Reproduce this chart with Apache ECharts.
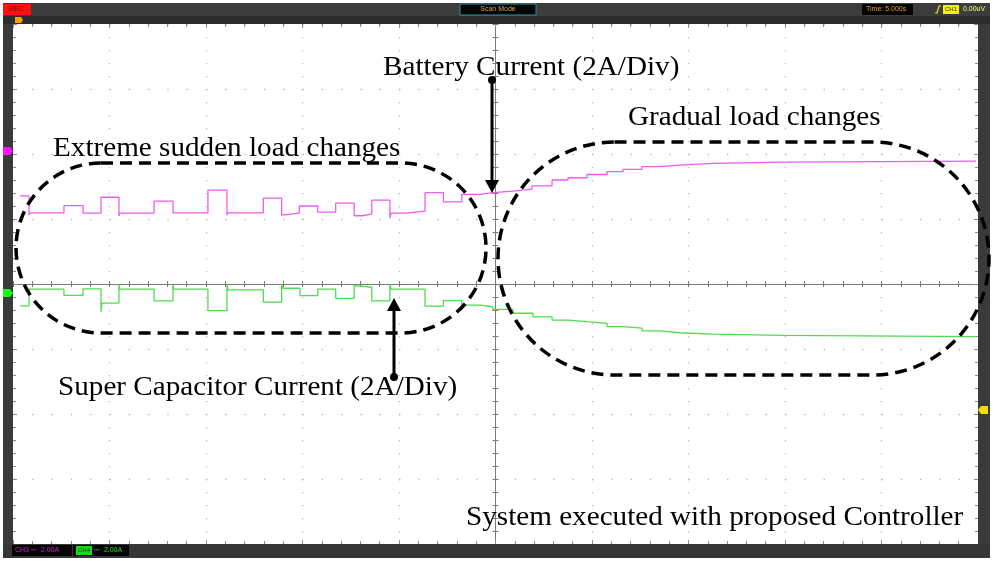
<!DOCTYPE html>
<html><head><meta charset="utf-8">
<script src="https://cdn.jsdelivr.net/npm/echarts@6/dist/echarts.min.js"></script>
<style>html,body{margin:0;padding:0;background:#fff}#c{width:994px;height:561px}</style>
</head><body><div id="c"></div>
<script>
// Time axis: 5.000 s/div, 10 divisions, trigger at centre
const timeMin = -25, timeMax = 25, timeStep = 5;
// Current axis: 2 A/div, 8 divisions
const ampMin = -8, ampMax = 8, ampStep = 2;

// Battery current (CH3, magenta) [time s, displayed A] - step changes
const batteryCurrent = [
  [-24.64, 2.71], [-24.17, 2.12], [-24.12, 2.19], [-22.36, 2.41], [-21.37, 2.18],
  [-20.44, 2.67], [-19.51, 2.09], [-19.46, 2.18], [-17.69, 2.55], [-16.71, 2.19],
  [-14.90, 2.89], [-13.91, 2.12], [-13.86, 2.19], [-12.03, 2.64], [-11.08, 2.12],
  [-11.01, 2.18], [-10.17, 2.40], [-9.21, 2.21], [-8.28, 2.49], [-7.32, 2.10],
  [-6.90, 2.16], [-6.41, 2.58], [-5.47, 2.03], [-5.41, 2.18], [-4.60, 2.24],
  [-3.65, 2.81], [-2.70, 2.53], [-1.75, 2.76], [-0.80, 2.81], [-0.13, 2.86],
  [0.91, 2.92], [1.89, 3.02], [2.93, 3.20], [3.76, 3.27], [4.74, 3.37],
  [5.78, 3.46], [6.61, 3.53], [7.59, 3.61], [8.52, 3.66], [9.56, 3.71],
  [11.27, 3.75], [14.90, 3.78], [24.90, 3.78]
];

// Super capacitor current (CH4, green) [time s, displayed A]
const superCapCurrent = [
  [-24.64, -0.67], [-24.17, -0.16], [-22.36, -0.35], [-21.37, -0.15], [-20.44, -0.85],
  [-20.39, -0.59], [-19.51, -0.03], [-19.46, -0.16], [-17.69, -0.52], [-16.71, -0.03],
  [-16.66, -0.16], [-14.90, -0.82], [-13.91, -0.03], [-13.86, -0.18], [-12.03, -0.56],
  [-11.08, 0.00], [-11.01, -0.13], [-10.13, -0.36], [-9.21, -0.16], [-8.28, -0.44],
  [-7.32, -0.05], [-7.28, -0.10], [-6.41, -0.52], [-5.47, 0.00], [-5.41, -0.16],
  [-3.65, -0.68], [-2.70, -0.51], [-1.75, -0.65], [-0.80, -0.70], [-0.13, -0.78],
  [0.91, -0.90], [1.94, -1.01], [2.93, -1.11], [3.76, -1.16], [4.74, -1.21],
  [5.78, -1.31], [6.61, -1.36], [7.59, -1.44], [8.52, -1.50], [9.56, -1.54],
  [11.27, -1.58], [14.90, -1.62], [24.90, -1.62]
];

const annotationTexts = {
  battery: 'Battery Current (2A/Div)',
  sudden: 'Extreme sudden load changes',
  gradual: 'Gradual load changes',
  supercap: 'Super Capacitor Current (2A/Div)',
  system: 'System executed with proposed Controller'
};

const chart = echarts.init(document.getElementById('c'), null, {renderer: 'canvas'});

const tickGray = '#8c8c8c';
const dotGray = '#b8b8b8';
function edgeX(pos, showSplit) {
  return {
    type: 'value', min: timeMin, max: timeMax, interval: timeStep, position: pos,
    axisLine: {show: false, onZero: false},
    axisTick: {show: true, inside: true, length: 4, lineStyle: {color: tickGray}},
    minorTick: {show: true, splitNumber: 5, length: 3, lineStyle: {color: tickGray}},
    axisLabel: {show: false},
    splitLine: {show: showSplit, lineStyle: {color: dotGray, width: 1.3, type: [1.3, 11.7]}}
  };
}
function centerX(inside) {
  return {
    type: 'value', min: timeMin, max: timeMax, interval: timeStep, position: 'bottom',
    axisLine: {show: true, onZero: true, onZeroAxisIndex: 0, lineStyle: {color: '#7a7a7a', width: 1}},
    axisTick: {show: true, inside: inside, length: 3, lineStyle: {color: '#7a7a7a'}},
    minorTick: {show: true, splitNumber: 5, length: 3, lineStyle: {color: '#7a7a7a'}},
    axisLabel: {show: false}, splitLine: {show: false}
  };
}
function edgeY(pos, showSplit) {
  return {
    type: 'value', min: ampMin, max: ampMax, interval: ampStep, position: pos,
    axisLine: {show: false, onZero: false},
    axisTick: {show: true, inside: true, length: 4, lineStyle: {color: tickGray}},
    minorTick: {show: true, splitNumber: 5, length: 3, lineStyle: {color: tickGray}},
    axisLabel: {show: false},
    splitLine: {show: showSplit, lineStyle: {color: dotGray, width: 1.3, type: [1.3, 18.0]}}
  };
}
function centerY(inside) {
  return {
    type: 'value', min: ampMin, max: ampMax, interval: ampStep, position: 'left',
    axisLine: {show: true, onZero: true, onZeroAxisIndex: 0, lineStyle: {color: '#7a7a7a', width: 1}},
    axisTick: {show: true, inside: inside, length: 3, lineStyle: {color: '#7a7a7a'}},
    minorTick: {show: true, splitNumber: 5, length: 3, lineStyle: {color: '#7a7a7a'}},
    axisLabel: {show: false}, splitLine: {show: false}
  };
}

const serif = '"Liberation Serif", "Times New Roman", serif';
const small = '"Liberation Sans Narrow", "Liberation Sans", Arial, sans-serif';
function annText(txt, x, y) {
  return {type: 'text', x: x, y: y, scaleX: 1.08, z: 120,
    style: {text: txt, font: '27px ' + serif, fill: '#000', align: 'left', verticalAlign: 'middle'}};
}
const dash = {fill: 'none', stroke: '#000', lineWidth: 3.5, lineDash: [12, 7]};

const graphics = [
  // scope frame
  {type: 'rect', z: 5, shape: {x: 3, y: 3, width: 987, height: 14}, style: {fill: '#3c3c3c'}},
  {type: 'rect', z: 5, shape: {x: 3, y: 16, width: 987, height: 8}, style: {fill: '#2c2c2c'}},
  {type: 'rect', z: 5, shape: {x: 3, y: 24, width: 10, height: 520}, style: {fill: '#3a3a3a'}},
  {type: 'rect', z: 5, shape: {x: 978, y: 24, width: 12, height: 520}, style: {fill: '#3a3a3a'}},
  {type: 'rect', z: 5, shape: {x: 3, y: 544, width: 987, height: 14}, style: {fill: '#363636'}},
  // top bar items
  {type: 'rect', z: 6, shape: {x: 3, y: 4, width: 28, height: 11}, style: {fill: '#ff1010'}},
  {type: 'text', z: 7, x: 9, y: 9.5, style: {text: 'REC', font: '7px ' + small, fill: '#7a0000', verticalAlign: 'middle'}},
  {type: 'rect', z: 6, shape: {x: 460, y: 4, width: 76, height: 11}, style: {fill: '#050505', stroke: '#2f8f9f', lineWidth: 1}},
  {type: 'text', z: 7, x: 498, y: 9.5, style: {text: 'Scan Mode', font: '7px ' + small, fill: '#e0a040', align: 'center', verticalAlign: 'middle'}},
  {type: 'rect', z: 6, shape: {x: 862, y: 4, width: 51, height: 11}, style: {fill: '#050505'}},
  {type: 'text', z: 7, x: 866, y: 9.5, style: {text: 'Time: 5.000s', font: '7px ' + small, fill: '#e09a30', verticalAlign: 'middle'}},
  {type: 'polyline', z: 7, shape: {points: [[935, 13], [937, 13], [939, 6], [941, 6]]}, style: {stroke: '#ffe000', lineWidth: 1.2, fill: 'none'}},
  {type: 'rect', z: 6, shape: {x: 943, y: 5, width: 16, height: 9}, style: {fill: '#f5f500'}},
  {type: 'text', z: 7, x: 951, y: 9.5, style: {text: 'CH1', font: '6px ' + small, fill: '#222', align: 'center', verticalAlign: 'middle'}},
  {type: 'text', z: 7, x: 963, y: 9.5, style: {text: '0.00uV', font: '7px ' + small, fill: '#ffff90', verticalAlign: 'middle'}},
  {type: 'polygon', z: 7, shape: {points: [[15, 17], [21, 17], [23, 20], [21, 23], [15, 23]]}, style: {fill: '#ff9a00'}},
  // bottom status items
  {type: 'rect', z: 6, shape: {x: 12, y: 545, width: 60, height: 11}, style: {fill: '#050505'}},
  {type: 'text', z: 7, x: 15, y: 550.5, style: {text: 'CH3 \u2393  2.00A', font: '7px ' + small, fill: '#d020d0', verticalAlign: 'middle'}},
  {type: 'rect', z: 6, shape: {x: 73, y: 545, width: 56, height: 11}, style: {fill: '#050505'}},
  {type: 'rect', z: 6, shape: {x: 76, y: 546, width: 16, height: 9}, style: {fill: '#10e010'}},
  {type: 'text', z: 7, x: 84, y: 550.5, style: {text: 'CH4', font: '6px ' + small, fill: '#064006', align: 'center', verticalAlign: 'middle'}},
  {type: 'text', z: 7, x: 94, y: 550.5, style: {text: '\u2393  2.00A', font: '7px ' + small, fill: '#20e020', verticalAlign: 'middle'}},
  // channel level markers
  {type: 'polygon', z: 7, shape: {points: [[3, 147], [10, 147], [13, 151], [10, 155], [3, 155]]}, style: {fill: '#ff10ff'}},
  {type: 'polygon', z: 7, shape: {points: [[3, 289], [10, 289], [13, 293], [10, 297], [3, 297]]}, style: {fill: '#10ff10'}},
  {type: 'polygon', z: 7, shape: {points: [[978, 410], [981, 406], [988, 406], [988, 414], [981, 414]]}, style: {fill: '#f0e000'}},
  // annotations
  {type: 'rect', z: 110, shape: {x: 16, y: 163, width: 470, height: 170, r: 85}, style: dash},
  {type: 'rect', z: 110, shape: {x: 498, y: 142, width: 491, height: 233, r: 116.5}, style: dash},
  {type: 'line', z: 110, shape: {x1: 492, y1: 80, x2: 492, y2: 182}, style: {stroke: '#000', lineWidth: 3}},
  {type: 'polygon', z: 110, shape: {points: [[485, 180], [499, 180], [492, 193]]}, style: {fill: '#000'}},
  {type: 'circle', z: 110, shape: {cx: 492, cy: 80, r: 4}, style: {fill: '#000'}},
  {type: 'line', z: 110, shape: {x1: 394, y1: 308, x2: 394, y2: 377}, style: {stroke: '#000', lineWidth: 3}},
  {type: 'polygon', z: 110, shape: {points: [[387, 311], [401, 311], [394, 298]]}, style: {fill: '#000'}},
  {type: 'circle', z: 110, shape: {cx: 394, cy: 377, r: 4}, style: {fill: '#000'}},
  annText(annotationTexts.battery, 383, 68),
  annText(annotationTexts.sudden, 53, 149),
  annText(annotationTexts.gradual, 628, 118),
  annText(annotationTexts.supercap, 58, 388),
  annText(annotationTexts.system, 466, 518)
];

chart.setOption({
  animation: false,
  backgroundColor: '#ffffff',
  grid: {left: 13, top: 24, width: 965, height: 520, show: true, backgroundColor: '#ffffff', borderWidth: 0, containLabel: false},
  xAxis: [edgeX('bottom', true), edgeX('top', false), centerX(true), centerX(false)],
  yAxis: [edgeY('left', true), edgeY('right', false), centerY(true), centerY(false)],
  series: [
    {name: 'Battery Current', type: 'line', step: 'end', data: batteryCurrent, showSymbol: false, symbol: 'none',
     xAxisIndex: 0, yAxisIndex: 0, lineStyle: {color: '#ee5cee', width: 1.3}, itemStyle: {color: '#ee5cee'}, z: 20},
    {name: 'Super Capacitor Current', type: 'line', step: 'end', data: superCapCurrent, showSymbol: false, symbol: 'none',
     xAxisIndex: 0, yAxisIndex: 0, lineStyle: {color: '#4ede4e', width: 1.3}, itemStyle: {color: '#4ede4e'}, z: 20}
  ],
  graphic: {elements: graphics}
});
</script>
</body></html>
